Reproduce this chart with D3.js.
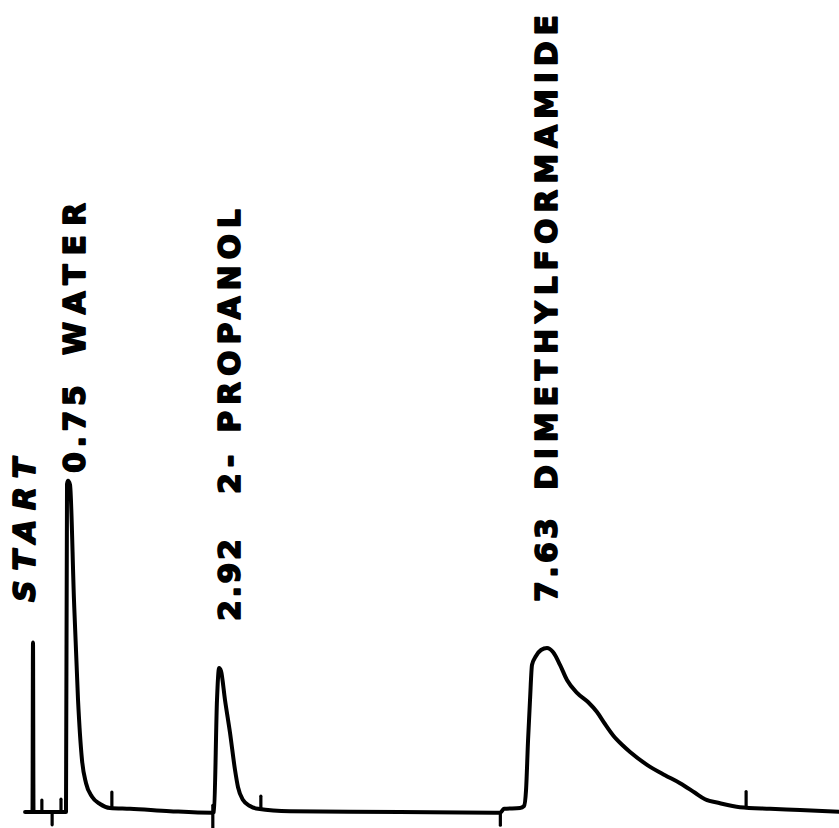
<!DOCTYPE html>
<html>
<head>
<meta charset="utf-8">
<script src="https://cdn.jsdelivr.net/npm/d3@7"></script>
<style>
  body { margin: 0; background: #fff; }
</style>
</head>
<body>
<div id="wrapper"></div>
<script>
// retention times (min) and names of the peaks
const peakTimes = [0.75, 2.92, 7.63];
const peakNames = ["WATER", "2- PROPANOL", "DIMETHYLFORMAMIDE"];
const startLabel = "START";

// recorder trace: [time (min), response]
const trace = [
    [-0.17, 0], [-0.011, 0], [0, 21.2], [0.011, 0],
    [0.707, 0], [0.729, 41], [0.75, 41.4], [0.779, 40.9],
    [0.836, 26.5], [0.894, 14], [0.951, 6.5], [1.009, 3.6],
    [1.095, 1.9], [1.21, 1.0], [1.353, 0.5], [1.641, 0.4],
    [2.215, 0.1], [2.818, -0.1], [2.847, 0], [2.89, 14],
    [2.92, 18], [2.948, 17.6], [3.005, 14], [3.077, 9.9],
    [3.149, 5.25], [3.192, 3.1], [3.264, 1.5], [3.364, 0.75],
    [3.479, 0.4], [3.939, 0.1], [5.519, 0], [6.955, -0.1],
    [7.013, 0.4], [7.243, 0.5], [7.3, 0.75], [7.329, 2.75],
    [7.358, 9], [7.386, 14], [7.415, 18.4], [7.472, 19.5],
    [7.544, 20.25], [7.63, 20.5], [7.716, 20], [7.817, 18.4],
    [7.917, 16.5], [8.061, 14.9], [8.219, 13.75], [8.348, 12.5],
    [8.463, 11], [8.578, 9.6], [8.708, 8.4], [8.823, 7.5],
    [9.067, 5.9], [9.325, 4.6], [9.541, 3.6], [9.756, 2.4],
    [9.9, 1.6], [10.115, 1.1], [10.402, 0.6], [10.833, 0.4],
    [11.264, 0.25], [11.91, 0]
];

// hand marks on the baseline: time, reach above and below the trace
const markTimes = [0.19, 0.41, 0.60, 1.38, 2.83, 3.52, 6.96, 10.49];
const markUp = [1.5, 0, 1.6, 2.0, 0.9, 1.6, 0, 2.0];
const markDown = [0, 1.6, 0, 0, 2.0, 0, 1.6, 0];

// 1. Dimensions

const dimensions = { width: 839, height: 828 };

// 2. Scales

const xScale = d3.scaleLinear()
    .domain([0, 0.75, 7.63])
    .range([33, 68, 547]);

const yScale = d3.scaleLinear()
    .domain([0, 100])
    .range([812, 12]);

// 3. Canvas

const svg = d3.select("#wrapper")
    .append("svg")
    .attr("width", dimensions.width)
    .attr("height", dimensions.height);

// 4. Trace

const lineGenerator = d3.line()
    .x(d => xScale(d[0]))
    .y(d => yScale(d[1]))
    .curve(d3.curveMonotoneX);

svg.append("path")
    .datum(trace)
    .attr("d", lineGenerator)
    .attr("fill", "none")
    .attr("stroke", "#000")
    .attr("stroke-width", 4)
    .attr("stroke-linejoin", "round")
    .attr("stroke-linecap", "round");

// baseline level at a given time
const bisect = d3.bisector(d => d[0]).left;
const levelAt = t => {
    const i = bisect(trace, t);
    const a = trace[i - 1], b = trace[i];
    return a[1] + (b[1] - a[1]) * (t - a[0]) / (b[0] - a[0]);
};

svg.append("g")
    .selectAll("line")
    .data(markTimes)
    .join("line")
    .attr("x1", d => xScale(d))
    .attr("x2", d => xScale(d))
    .attr("y1", (d, i) => yScale(levelAt(d) + markUp[i]))
    .attr("y2", (d, i) => yScale(levelAt(d) - markDown[i]))
    .attr("stroke", "#000")
    .attr("stroke-width", 3.2)
    .attr("stroke-linecap", "round");

// 5. Labels (vertical, reading upwards)

const fontSize = 30;

const drawVertical = (text, cx, bottom, top, italic) => {
    svg.append("text")
        .attr("transform", `translate(${cx},${bottom}) rotate(-90)`)
        .attr("dy", "0.36em")
        .attr("textLength", bottom - top)
        .attr("lengthAdjust", "spacing")
        .style("font-family", "'DejaVu Sans', sans-serif")
        .style("font-weight", "bold")
        .style("font-style", italic ? "italic" : "normal")
        .style("font-size", `${fontSize}px`)
        .attr("fill", "#000")
        .attr("stroke", "#000")
        .attr("stroke-width", 1.6)
        .attr("stroke-linejoin", "round")
        .text(text);
};

drawVertical(startLabel, xScale(0) - 9, 602, 458, true);

// offsets of each label column from its peak, and its vertical extent
const labelLayout = [
    { dx: 6,  num: [473, 385], name: [355, 203] },
    { dx: 10, num: [621, 539], name: [494, 209] },
    { dx: -1, num: [602, 518], name: [490, 15] }
];

peakTimes.forEach((t, i) => {
    const l = labelLayout[i];
    const cx = xScale(t) + l.dx;
    drawVertical(t.toFixed(2), cx, l.num[0], l.num[1], false);
    drawVertical(peakNames[i], cx, l.name[0], l.name[1], false);
});
</script>
</body>
</html>
